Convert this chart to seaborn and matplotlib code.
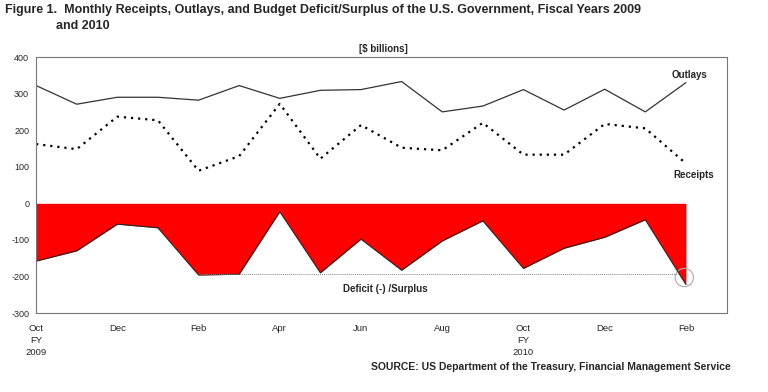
import matplotlib
matplotlib.use("Agg")
import matplotlib.pyplot as plt
from matplotlib.patches import Ellipse
import seaborn as sns
import pandas as pd

sns.set_style("white")
plt.rcParams['font.family'] = ['Liberation Sans', 'DejaVu Sans']
plt.rcParams['axes.unicode_minus'] = False

# monthly values, Oct FY2009 .. Feb FY2010 ($ billions)
months = ['Oct', 'Nov', 'Dec', 'Jan', 'Feb', 'Mar', 'Apr', 'May', 'Jun',
          'Jul', 'Aug', 'Sep', 'Oct', 'Nov', 'Dec', 'Jan', 'Feb']
outlays = [322, 271, 290, 290, 282, 322, 287, 309, 311, 333, 250, 266, 311, 255, 312, 250, 330]
receipts = [162, 148, 237, 227, 89, 129, 272, 122, 214, 152, 145, 220, 133, 133, 217, 205, 109]
deficit = [-158, -130, -57, -67, -196, -194, -23, -190, -98, -183, -103, -48, -178, -123, -93, -45, -222]

tick_labels = ['Oct\nFY\n2009', 'Dec', 'Feb', 'Apr', 'Jun', 'Aug', 'Oct\nFY\n2010', 'Dec', 'Feb']

df = pd.DataFrame({'idx': range(len(months)), 'month': months,
                   'Outlays': outlays, 'Receipts': receipts, 'Deficit': deficit})

fig = plt.figure(figsize=(7.68, 3.92), dpi=100)
ax = fig.add_axes([0.047, 0.2015, 0.899, 0.653])

# deficit area
ax.fill_between(df['idx'], df['Deficit'], 0, color='#ff0000', linewidth=0)
sns.lineplot(x='idx', y='Deficit', data=df, ax=ax, color='#222222', linewidth=0.8)
sns.lineplot(x='idx', y='Outlays', data=df, ax=ax, color='#333333', linewidth=0.9)
sns.lineplot(x='idx', y='Receipts', data=df, ax=ax, color='black', linewidth=1.6,
             linestyle=(0, (1, 2.2)))

# reference line from Feb FY2009 deficit to Feb FY2010
ax.hlines(deficit[4] + 3, 4, 15.8, color='#888888', linewidth=0.7, linestyles=(0, (1, 1)))
ax.add_patch(Ellipse((15.96, -203), 0.45, 50, fill=False,
                     edgecolor='#aaaaaa', linewidth=0.8))

ax.set_xlim(0, 17)
ax.set_ylim(-300, 400)
ax.set_yticks(range(-300, 401, 100))
ax.set_xticks(range(0, 18), minor=True)
ax.set_xticks(range(0, 17, 2))
ax.set_xticklabels(tick_labels, fontsize=6.8, linespacing=1.45)
ax.tick_params(axis='y', labelsize=6.5, length=3, width=0.6, color='#555555', pad=2)
ax.tick_params(axis='x', which='both', length=4, width=0.6, color='#555555', pad=4)
ax.set_xlabel('')
ax.set_ylabel('')
for s in ax.spines.values():
    s.set_linestyle((0, (1, 1)))
    s.set_color('#777777')
    s.set_linewidth(0.8)

ax.text(16.1, 337, 'Outlays', fontsize=7, fontweight='bold', ha='center', va='bottom')
ax.text(16.2, 90, 'Receipts', fontsize=7, fontweight='bold', ha='center', va='top')
ax.text(8.6, -220, 'Deficit (-) /Surplus', fontsize=7,
        fontweight='bold', ha='center', va='top')

fig.text(0.007, 0.99, 'Figure 1.  Monthly Receipts, Outlays, and Budget Deficit/Surplus of the U.S. Government, Fiscal Years 2009',
         fontsize=9, fontweight='bold', ha='left', va='top')
fig.text(0.073, 0.949, 'and 2010', fontsize=9, fontweight='bold', ha='left', va='top')
fig.text(0.499, 0.862, '[$ billions]', fontsize=7, fontweight='bold', ha='center', va='bottom')
fig.text(0.952, 0.052, 'SOURCE: US Department of the Treasury, Financial Management Service',
         fontsize=7.5, fontweight='bold', ha='right', va='bottom')

fig.savefig('out.png', dpi=100)
